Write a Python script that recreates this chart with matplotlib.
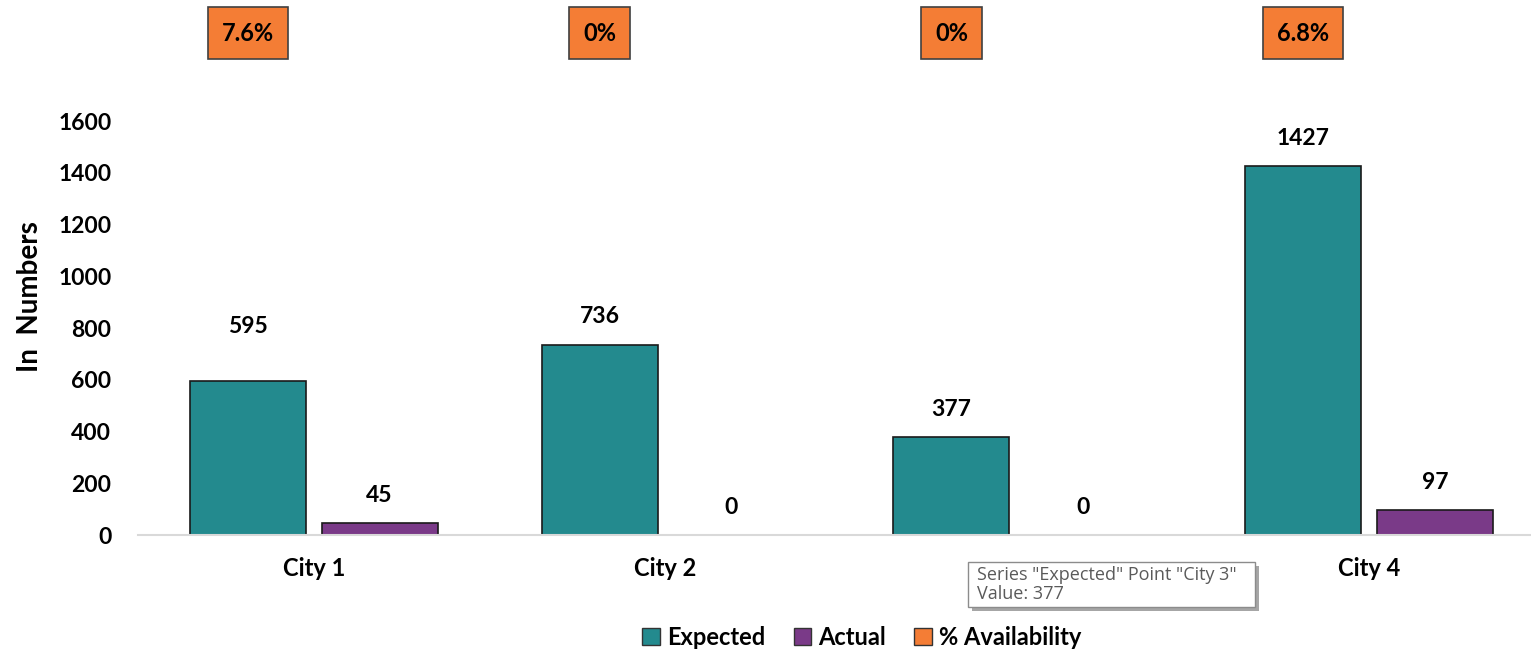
import numpy as np
import matplotlib.pyplot as plt
from matplotlib.patches import Patch, Rectangle

# data
cities = ["City 1", "City 2", "City 3", "City 4"]
expected = [595, 736, 377, 1427]
actual = [45, 0, 0, 97]
availability = ["7.6%", "0%", "0%", "6.8%"]

teal = "#238A8E"
purple = "#7A3A88"
orange = "#F47D35"

plt.rcParams["font.family"] = ["Lato", "DejaVu Sans"]

fig = plt.figure(figsize=(15.31, 6.55), dpi=100)
ax = fig.add_axes([0.090, 0.1832, 0.91, 0.632])

x = np.arange(len(cities))
w = 0.33
off = 0.1875
ax.bar(x - off, expected, w, color=teal, edgecolor="#1a1a1a", linewidth=1.2, zorder=2)
ax.bar(x + off, actual, w, color=purple, edgecolor="#1a1a1a", linewidth=1.2, zorder=2)

# value labels
for i, v in enumerate(expected):
    dy = 39 if i == 0 else 20
    ax.annotate(str(v), (x[i] - off, v), xytext=(0, dy), textcoords="offset points",
                ha="center", va="center", fontsize=16.5, fontweight="bold", annotation_clip=False)
for i, v in enumerate(actual):
    ax.annotate(str(v), (x[i] + off, v), xytext=(0, 20), textcoords="offset points",
                ha="center", va="center", fontsize=16.5, fontweight="bold", annotation_clip=False)

# % availability boxes at top
for i, t in enumerate(availability):
    ax.text(x[i] - off, 1.2126, t, transform=ax.get_xaxis_transform(), ha="center", va="center",
            fontsize=17, fontweight="bold",
            bbox=dict(boxstyle="square,pad=0.6", facecolor=orange, edgecolor="#404040", linewidth=1.2))

ax.set_xlim(-0.5, 3.46)
ax.set_ylim(0, 1600)
ax.set_yticks(range(0, 1601, 200))
ax.set_xticks(x)
ax.set_xticklabels(cities, fontsize=17, fontweight="bold")
# City 3 label sits under the tooltip in the screenshot
ax.get_xticklabels()[2].set_visible(False)
for lbl in ax.get_yticklabels():
    lbl.set_fontsize(16.5)
    lbl.set_fontweight("bold")
ax.tick_params(axis="both", length=0)
ax.tick_params(axis="x", pad=16)
ax.tick_params(axis="y", pad=19)
for s in ["top", "right", "left"]:
    ax.spines[s].set_visible(False)
ax.spines["bottom"].set_color("#d9d9d9")
ax.spines["bottom"].set_linewidth(1.5)
ax.set_ylabel("In  Numbers", fontsize=20, fontweight="bold", va="center")
ax.yaxis.set_label_coords(-0.0775, 0.575)

# tooltip
tx, ty, tw, th = 968 / 1531, 1 - 607 / 655, 287 / 1531, 45 / 655
fig.patches.append(Rectangle((tx + 4 / 1531, ty - 4 / 655), tw, th, transform=fig.transFigure,
                             facecolor="#a6a6a6", edgecolor="none", zorder=10))
fig.patches.append(Rectangle((tx, ty), tw, th, transform=fig.transFigure,
                             facecolor="white", edgecolor="#8c8c8c", linewidth=1, zorder=11))
fig.text(tx + 9 / 1531, ty + th - 4 / 655, 'Series "Expected" Point "City 3"\nValue: 377',
         ha="left", va="top", fontsize=13, color="#5a5a5a", linespacing=1.1, zorder=12,
         family=["Open Sans", "DejaVu Sans"])

handles = [Patch(facecolor=teal, edgecolor="#333333"),
           Patch(facecolor=purple, edgecolor="#333333"),
           Patch(facecolor=orange, edgecolor="#333333")]
fig.legend(handles, ["Expected", "Actual", "% Availability"], loc="center",
           bbox_to_anchor=(0.563, 0.027), ncol=3, frameon=False,
           prop=dict(size=17, weight="bold"), handlelength=0.75, handleheight=0.75,
           handletextpad=0.3, columnspacing=1.2)

fig.savefig("out.png", dpi=100)
